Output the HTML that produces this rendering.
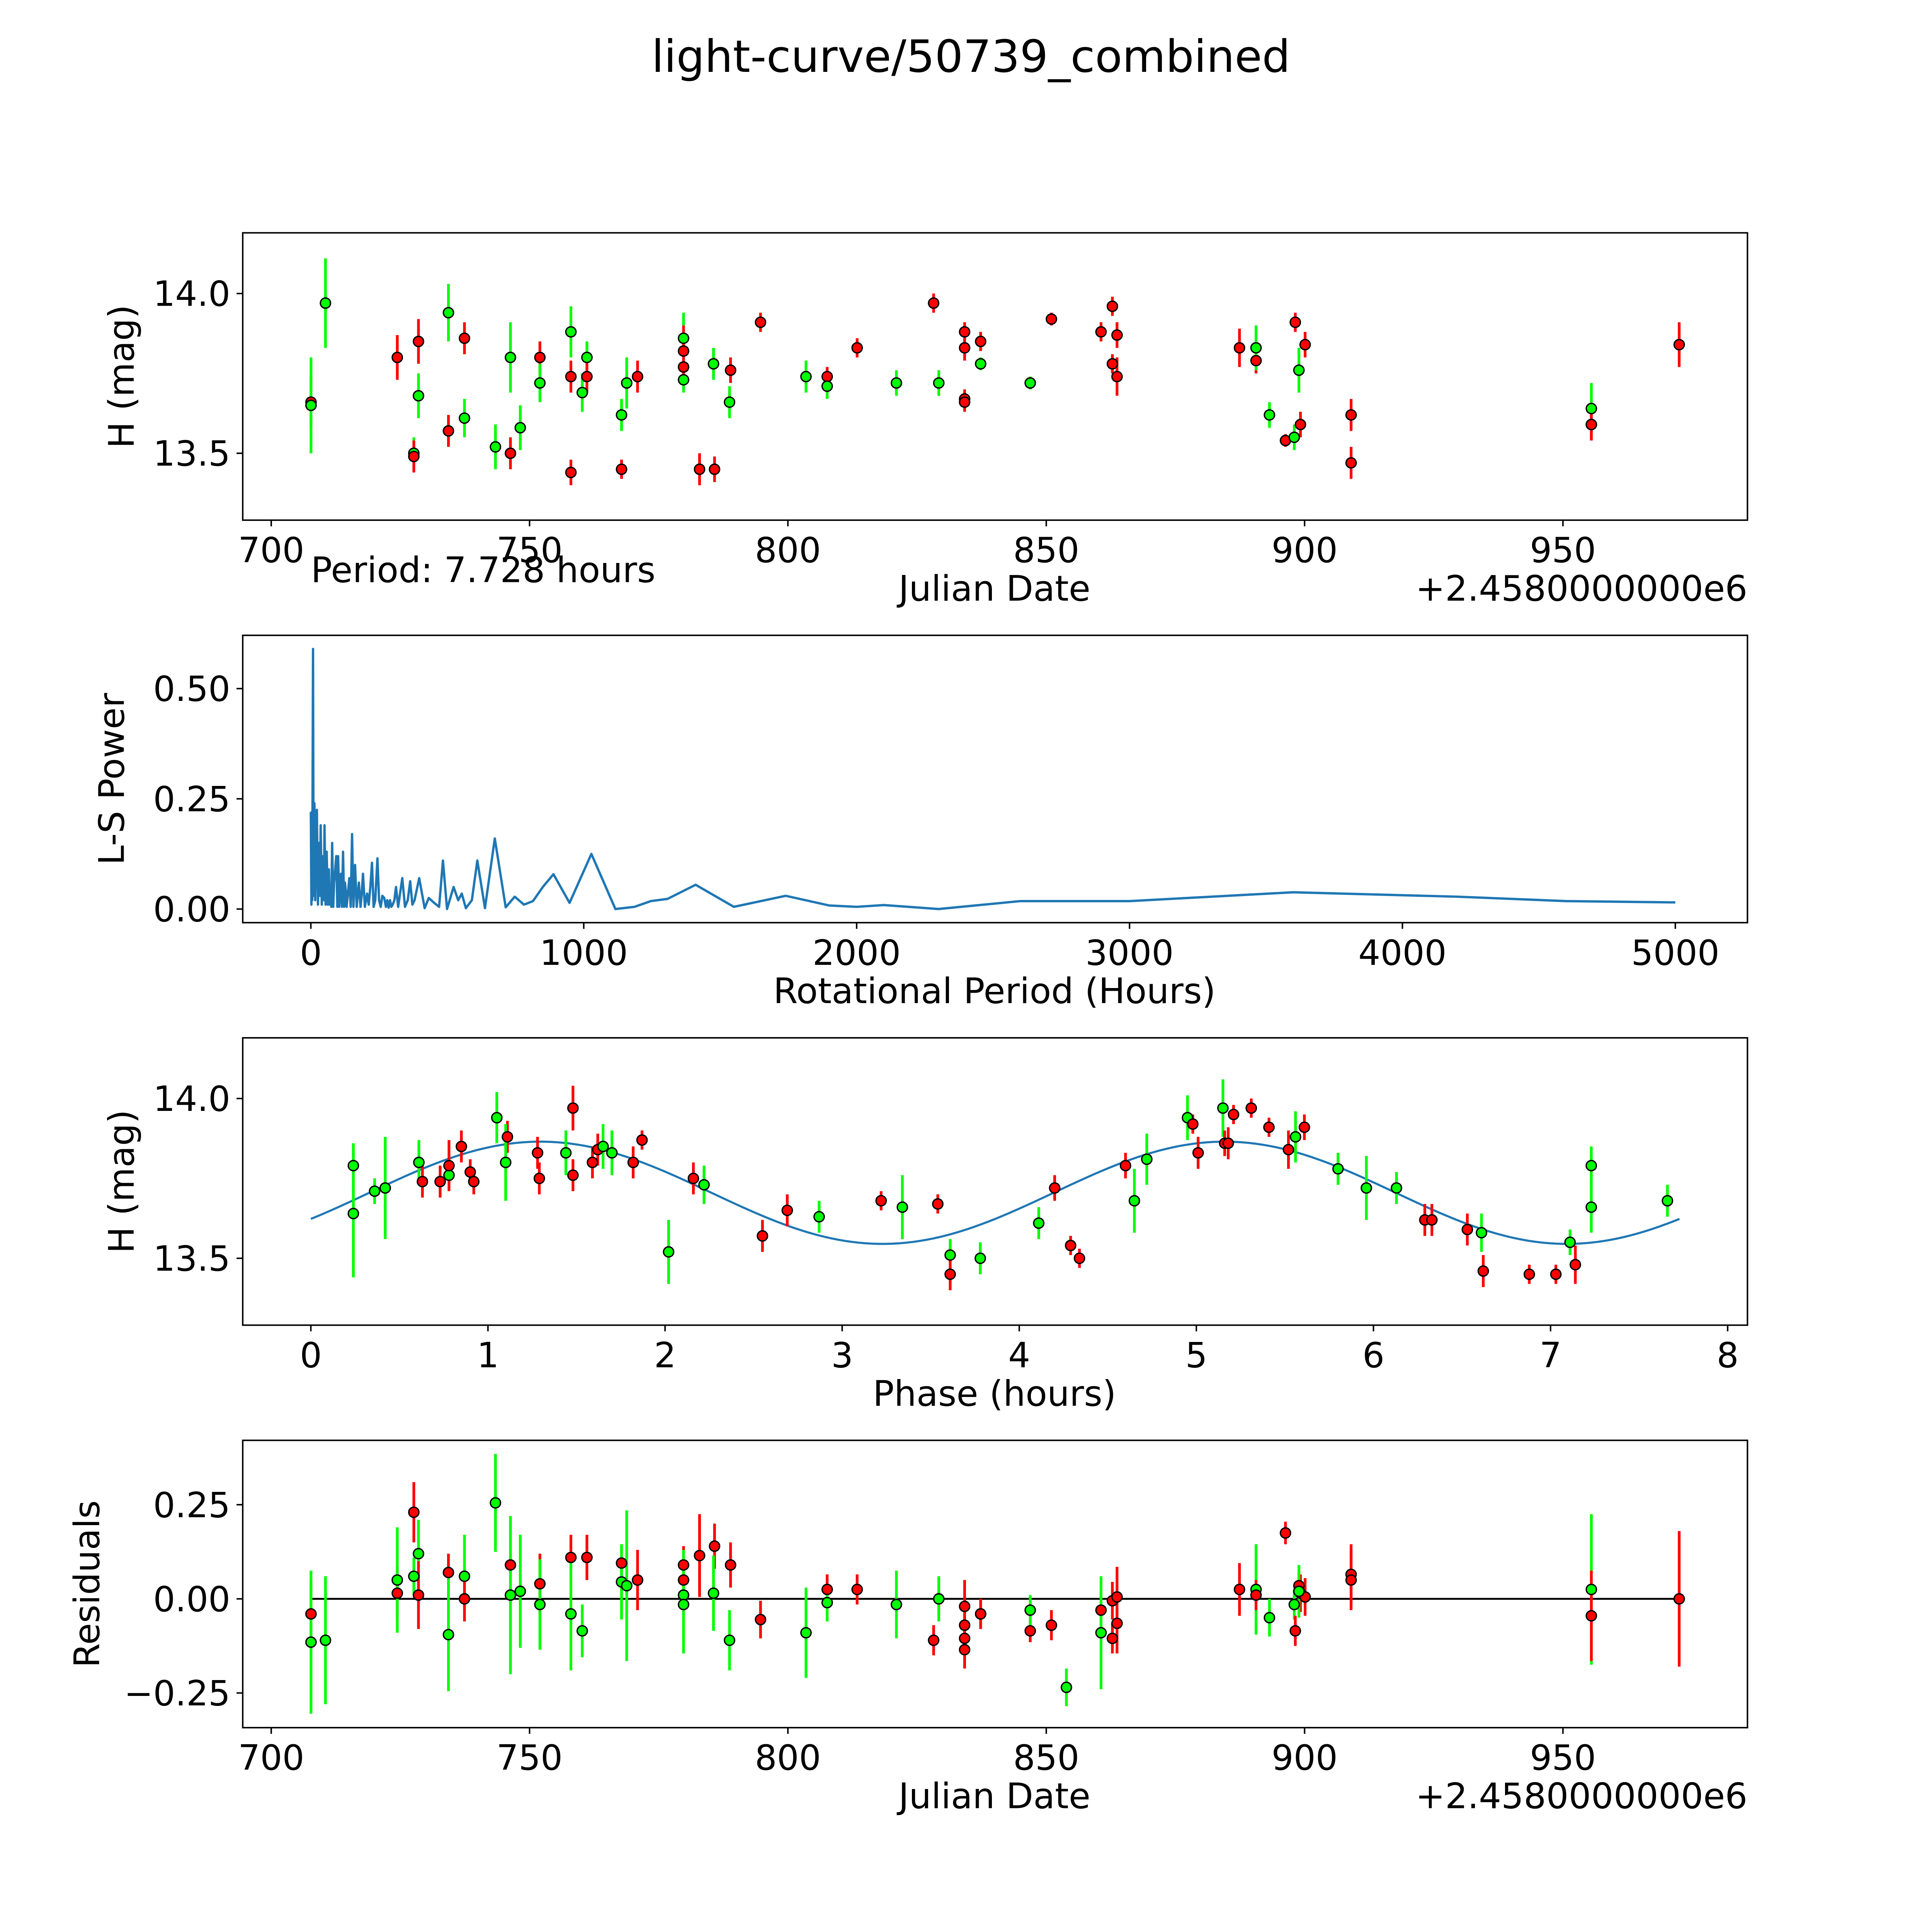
<!DOCTYPE html>
<html><head><meta charset="utf-8"><meta name="viewport" content="width=5400">
<style>
html,body{margin:0;padding:0;background:#fff;overflow:hidden;width:100vw;height:100vh;}
svg{display:block;width:100vw;height:100vh;}
text{font-family:"DejaVu Sans","Liberation Sans",sans-serif;fill:#000;}
</style></head>
<body>
<svg id="fig" viewBox="0 0 1560 1560" preserveAspectRatio="none" xmlns="http://www.w3.org/2000/svg">
<rect x="0" y="0" width="1560" height="1560" fill="#fff"/>
<text x="784" y="58" font-size="36" text-anchor="middle">light-curve/50739_combined</text>
</svg>
<script>
// ---- Light curve data (panel 1) ----
const lcColor = ["r","g","g","r","g","r","r","g","g","r","r","g","g","r","g","g","r","g","r","r","g","g","g","r","g","r","g","r","g","r","g","r","r","r","g","r","r","g","r","r","g","r","g","r","g","r","r","r","r","g","r","g","r","r","g","r","r","r","r","r","r","g","r","g","r","g","r","r","r","g","r","r","r","g","r","r"];
const lcDate  = [707.7,707.7,710.5,724.4,727.6,727.6,728.5,728.5,734.3,734.3,737.4,737.4,743.4,746.3,746.3,748.2,752.0,752.0,758.0,758.0,760.2,761.1,758.0,761.1,767.8,767.8,768.8,770.9,779.8,779.8,779.8,779.8,782.9,785.8,785.6,788.9,794.7,788.7,807.6,813.4,803.5,828.2,807.6,834.2,821.0,834.2,834.2,834.2,837.3,829.2,851.0,837.3,846.9,860.6,846.9,862.8,862.8,863.7,863.7,887.4,890.6,890.6,896.3,893.2,898.2,898.0,899.2,900.1,909.0,898.9,909.0,972.5,955.5,955.5,955.5,955.5];
const lcMag   = [13.66,13.65,13.97,13.80,13.50,13.49,13.85,13.68,13.94,13.57,13.86,13.61,13.52,13.50,13.80,13.58,13.80,13.72,13.44,13.74,13.69,13.80,13.88,13.74,13.62,13.45,13.72,13.74,13.86,13.77,13.73,13.82,13.45,13.45,13.78,13.76,13.91,13.66,13.74,13.83,13.74,13.97,13.71,13.88,13.72,13.83,13.67,13.66,13.85,13.72,13.92,13.78,13.72,13.88,13.72,13.96,13.78,13.87,13.74,13.83,13.79,13.83,13.54,13.62,13.91,13.55,13.59,13.84,13.62,13.76,13.47,13.84,13.59,13.64,13.59,13.59];
const lcErr   = [0.08,0.15,0.14,0.07,0.05,0.05,0.07,0.07,0.09,0.05,0.05,0.06,0.07,0.05,0.11,0.07,0.05,0.06,0.04,0.05,0.06,0.05,0.08,0.05,0.05,0.03,0.08,0.05,0.08,0.04,0.04,0.08,0.05,0.04,0.05,0.04,0.03,0.05,0.03,0.03,0.05,0.03,0.04,0.03,0.04,0.04,0.03,0.03,0.03,0.04,0.02,0.02,0.02,0.03,0.02,0.03,0.03,0.04,0.06,0.06,0.04,0.07,0.02,0.04,0.03,0.04,0.04,0.04,0.05,0.07,0.05,0.07,0.05,0.08,0.05,0.05];

// ---- Periodogram (panel 2) ----
const lsPeriod = [0,2,3,5,8,10,13,16,19,22,26,30,33,36,40,45,48,50,54,58,62,66,69,72,75,78,82,85,88,93,97,100,104,107,110,114,118,122,125,128,131,135,141,146,151,156,162,168,176,182,186,191,198,206,212,218,224,230,236,244,250,256,262,269,275,280,285,290,295,300,306,312,320,328,335,345,355,364,372,380,397,417,432,450,470,484,499,523,540,553,568,590,610,638,674,714,747,781,814,850,889,948,1028,1116,1186,1246,1307,1410,1550,1740,1900,2000,2100,2300,2600,3000,3600,4200,4600,5000];
const lsPower  = [0.22,0.01,0.22,0.02,0.59,0.03,0.24,0.02,0.16,0.225,0.01,0.15,0.03,0.19,0.01,0.12,0.02,0.19,0.01,0.13,0.01,0.09,0.01,0.05,0.005,0.15,0.005,0.06,0.08,0.12,0.005,0.12,0.005,0.05,0.08,0.005,0.13,0.005,0.06,0.04,0.005,0.03,0.07,0.005,0.17,0.005,0.10,0.005,0.06,0.005,0.03,0.08,0.005,0.035,0.01,0.05,0.105,0.005,0.02,0.115,0.02,0.005,0.03,0.025,0.005,0.02,0.003,0.02,0.005,0.01,0.02,0.05,0.005,0.04,0.07,0.005,0.02,0.063,0.01,0.02,0.07,0.002,0.025,0.015,0.005,0.11,0.0,0.05,0.02,0.035,0.002,0.02,0.11,0.002,0.16,0.004,0.028,0.01,0.018,0.05,0.079,0.014,0.125,0.0,0.005,0.018,0.023,0.055,0.005,0.03,0.008,0.005,0.009,0.0,0.018,0.018,0.038,0.028,0.018,0.015];

// ---- Phase-folded (panel 3) ----
const phColor = ["g","g","g","g","g","r","r","g","r","r","r","r","g","r","g","r","r","g","r","r","r","r","g","g","r","r","g","r","g","r","r","g","r","g","r","g","r","g","g","r","r","r","g","r","g","g","r","r","g","r","r","r","r","r","r","g","r","g","g","r","g","r","g","r","r","r","g","r","r","g","g","g"];
const phPhase = [0.24,0.24,0.36,0.42,0.61,0.63,0.73,0.78,0.78,0.85,0.90,0.92,1.05,1.11,1.10,1.28,1.29,1.44,1.48,1.48,1.59,1.62,1.65,1.70,1.82,1.87,2.02,2.16,2.22,2.55,2.69,2.87,3.22,3.34,3.54,3.61,3.61,3.78,4.11,4.20,4.29,4.34,4.65,4.60,4.72,4.95,4.98,5.01,5.15,5.16,5.18,5.21,5.31,5.41,5.52,5.56,5.61,5.80,5.96,6.29,6.13,6.33,6.61,6.53,6.62,6.88,7.11,7.03,7.14,7.23,7.23,7.66];
const phMag   = [13.79,13.64,13.71,13.72,13.80,13.74,13.74,13.76,13.79,13.85,13.77,13.74,13.94,13.88,13.80,13.83,13.75,13.83,13.97,13.76,13.80,13.84,13.85,13.83,13.80,13.87,13.52,13.75,13.73,13.57,13.65,13.63,13.68,13.66,13.67,13.51,13.45,13.50,13.61,13.72,13.54,13.50,13.68,13.79,13.81,13.94,13.92,13.83,13.97,13.86,13.86,13.95,13.97,13.91,13.84,13.88,13.91,13.78,13.72,13.62,13.72,13.62,13.58,13.59,13.46,13.45,13.55,13.45,13.48,13.66,13.79,13.68];
const phErr   = [0.07,0.2,0.04,0.16,0.07,0.05,0.05,0.04,0.08,0.05,0.04,0.04,0.08,0.05,0.12,0.05,0.05,0.07,0.07,0.05,0.05,0.05,0.07,0.07,0.05,0.03,0.1,0.05,0.06,0.05,0.05,0.05,0.03,0.1,0.03,0.05,0.05,0.05,0.05,0.04,0.03,0.03,0.1,0.04,0.08,0.07,0.03,0.05,0.09,0.04,0.05,0.03,0.03,0.03,0.06,0.08,0.04,0.05,0.1,0.05,0.05,0.05,0.06,0.05,0.05,0.03,0.04,0.03,0.06,0.08,0.06,0.05];
// fitted sinusoid parameters (model)
const fitParams = [13.705, 0.16, 3.864, 0.33];
const fitRange = [0, 7.728];

// ---- Residuals (panel 4) ----
const rsColor = ["r","g","g","r","g","r","g","g","r","r","g","g","r","g","r","g","g","r","g","r","r","g","g","r","g","g","r","r","r","g","g","r","r","g","r","g","r","g","r","g","r","g","r","r","r","r","r","g","g","r","r","g","g","r","r","r","r","r","g","r","g","r","g","r","r","g","r","r","r","r","g","r","r"];
const rsDate  = [707.7,707.7,710.5,724.4,724.4,727.6,727.6,728.5,728.5,734.3,734.3,737.4,737.4,743.4,746.3,746.3,748.2,752.0,752.0,758.0,761.1,758.0,760.2,767.8,767.8,768.8,770.9,779.8,779.8,779.8,779.8,782.9,785.8,785.6,788.9,788.7,794.7,803.5,807.6,807.6,813.4,821.0,828.2,834.2,834.2,834.2,834.2,829.2,837.3,837.3,846.9,846.9,853.9,851.0,860.6,862.8,862.8,863.7,860.6,863.7,890.6,887.4,893.2,890.6,896.3,898.0,898.2,898.9,899.2,900.1,898.9,909.0,909.0];
const rsVal   = [-0.04,-0.115,-0.11,0.015,0.05,0.23,0.06,0.12,0.01,0.07,-0.095,0.06,0.0,0.255,0.09,0.01,0.02,0.04,-0.015,0.11,0.11,-0.04,-0.085,0.095,0.045,0.035,0.05,0.09,0.05,0.01,-0.015,0.115,0.14,0.015,0.09,-0.11,-0.055,-0.09,0.025,-0.01,0.025,-0.015,-0.11,-0.02,-0.07,-0.105,-0.135,0.0,-0.04,-0.04,-0.085,-0.03,-0.235,-0.07,-0.03,-0.005,-0.105,0.005,-0.09,-0.065,0.025,0.025,-0.05,0.01,0.175,-0.015,-0.085,0.035,0.015,0.005,0.02,0.065,0.05];
const rsErr   = [0.09,0.19,0.17,0.07,0.14,0.08,0.05,0.09,0.09,0.05,0.15,0.11,0.06,0.13,0.07,0.21,0.15,0.08,0.12,0.06,0.06,0.15,0.07,0.05,0.1,0.2,0.08,0.05,0.05,0.12,0.13,0.11,0.06,0.1,0.06,0.08,0.05,0.12,0.04,0.05,0.04,0.09,0.04,0.07,0.07,0.06,0.05,0.06,0.04,0.04,0.03,0.04,0.05,0.04,0.05,0.05,0.04,0.08,0.15,0.08,0.12,0.07,0.05,0.04,0.03,0.04,0.04,0.04,0.05,0.05,0.07,0.08,0.08];
const rsDate2 = [955.5,955.5,972.5];
const rsVal2  = [0.025,-0.045,0.0];
const rsErr2  = [0.2,0.12,0.18];
const rsColor2 = ["g","r","r"];

const NS="http://www.w3.org/2000/svg";
const svg=document.getElementById('fig');
const COL={r:"#ff0000",g:"#00ff00"};
const TICK=28, LAB=28.5;
function mk(tag,attrs,parent){const e=document.createElementNS(NS,tag);for(const k in attrs)e.setAttribute(k,attrs[k]);(parent||svg).appendChild(e);return e;}

function panel(name,box,xs,ys,xticks,xlabels,yticks,ylabels,xtitle,ytitle,ytitleX,xtitleX){
  const g=mk('g',{});
  
  
  const fr=mk('rect',{x:box.l,y:box.t,width:box.r-box.l,height:box.b-box.t,fill:'none',stroke:'#000','stroke-width':1.2},g);
  
  
  xticks.forEach((v,i)=>{const x=xs(v);
    mk('line',{x1:x,x2:x,y1:box.b,y2:box.b+5,stroke:'#000','stroke-width':1.2},g);
    const t=mk('text',{x:x,y:box.b+34,'font-size':TICK,'text-anchor':'middle'},g);t.textContent=xlabels[i];
    
    });
  yticks.forEach((v,i)=>{const y=ys(v);
    mk('line',{x1:box.l-5,x2:box.l,y1:y,y2:y,stroke:'#000','stroke-width':1.2},g);
    const t=mk('text',{x:box.l-10,y:y+10,'font-size':TICK,'text-anchor':'end'},g);t.textContent=ylabels[i];
    
    });
  const xt=mk('text',{x:xtitleX,y:box.b+65,'font-size':LAB,'text-anchor':'middle'},g);xt.textContent=xtitle;
  
  
  const cy=(box.t+box.b)/2;
  const yt=mk('text',{x:ytitleX,y:cy,'font-size':LAB,'text-anchor':'middle',transform:`rotate(-90 ${ytitleX} ${cy})`},g);yt.textContent=ytitle;
  
  
  return g;
}
function errpts(g,xs,ys,xArr,yArr,eArr,cArr,name){
  xArr.forEach((xv,i)=>{const x=xs(xv);
    const l=mk('line',{x1:x,x2:x,y1:ys(yArr[i]-eArr[i]),y2:ys(yArr[i]+eArr[i]),stroke:COL[cArr[i]],'stroke-width':2.2},g);
    
    });
  xArr.forEach((xv,i)=>{
    const c=mk('circle',{cx:xs(xv),cy:ys(yArr[i]),r:4.1,fill:COL[cArr[i]],stroke:'#000','stroke-width':1.1},g);
    
    });
}

// Panel 1
const b1={l:196,r:1411,t:188,b:420};
const xs1=d=>219+(d-700)*4.172, ys1=m=>237-(m-14)*258;
const g1=panel('light-curve-panel',b1,xs1,ys1,[700,750,800,850,900,950],["700","750","800","850","900","950"],[13.5,14.0],["13.5","14.0"],"Julian Date","H (mag)",108,803);
errpts(g1,xs1,ys1,lcDate,lcMag,lcErr,lcColor,'light-curve');
let t=mk('text',{x:1411,y:485,'font-size':LAB,'text-anchor':'end'});t.textContent="+2.4580000000e6";


t=mk('text',{x:251,y:470,'font-size':LAB});t.textContent="Period: 7.728 hours";



// Panel 2
const b2={l:196,r:1411,t:513,b:745};
const xs2=p=>251+p*0.22035, ys2=v=>734-v*356;
const g2=panel('periodogram-panel',b2,xs2,ys2,[0,1000,2000,3000,4000,5000],["0","1000","2000","3000","4000","5000"],[0,0.25,0.5],["0.00","0.25","0.50"],"Rotational Period (Hours)","L-S Power",100,803);
const pl=mk('polyline',{points:lsPeriod.map((p,i)=>xs2(p)+','+ys2(lsPower[i])).join(' '),fill:'none',stroke:'#1f77b4','stroke-width':1.9,'stroke-linejoin':'round'},g2);



// Panel 3
const b3={l:196,r:1411,t:838,b:1070};
const xs3=p=>251+p*143, ys3=m=>887-(m-14)*258;
const g3=panel('phase-panel',b3,xs3,ys3,[0,1,2,3,4,5,6,7,8],["0","1","2","3","4","5","6","7","8"],[13.5,14.0],["13.5","14.0"],"Phase (hours)","H (mag)",108,803);
const fp=[];for(let i=0;i<=200;i++){const p=fitRange[0]+(fitRange[1]-fitRange[0])*i/200;
  const m=fitParams[0]+fitParams[1]*Math.sin(2*Math.PI*(p-fitParams[3])/fitParams[2]);fp.push(xs3(p)+','+ys3(m));}
const fl=mk('polyline',{points:fp.join(' '),fill:'none',stroke:'#1f77b4','stroke-width':1.7},g3);


errpts(g3,xs3,ys3,phPhase,phMag,phErr,phColor,'phase');

// Panel 4
const b4={l:196,r:1411,t:1163,b:1395};
const ys4=v=>1291-v*304;
const g4=panel('residuals-panel',b4,xs1,ys4,[700,750,800,850,900,950],["700","750","800","850","900","950"],[-0.25,0,0.25],["\u22120.25","0.00","0.25"],"Julian Date","Residuals",80,803);
const zl=mk('line',{x1:xs1(707.7),x2:xs1(972.5),y1:ys4(0),y2:ys4(0),stroke:'#000','stroke-width':1.5},g4);


errpts(g4,xs1,ys4,rsDate,rsVal,rsErr,rsColor,'residual');
errpts(g4,xs1,ys4,rsDate2,rsVal2,rsErr2,rsColor2,'residual');
t=mk('text',{x:1411,y:1460,'font-size':LAB,'text-anchor':'end'});t.textContent="+2.4580000000e6";


</script>
</body></html>
